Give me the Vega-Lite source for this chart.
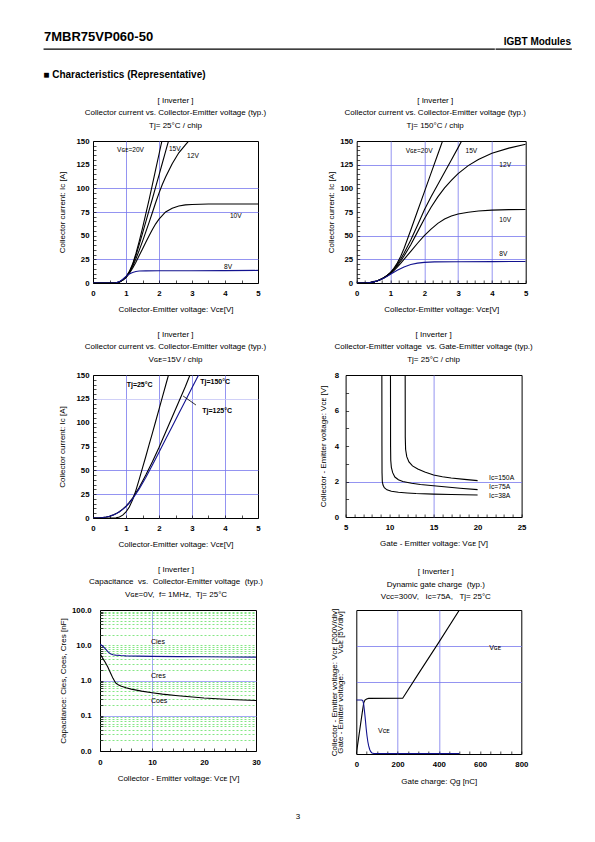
{
"$schema": "https://vega.github.io/schema/vega-lite/v6.json",
"padding": {"left": 43, "top": 30, "right": 5, "bottom": 5},
"spacing": 15,
"config": {
 "font": "Liberation Sans",
 "view": {"stroke": "#000", "strokeWidth": 1},
 "axis": {"domain": false, "tickColor": "#000", "tickSize": -3, "tickWidth": 0.7, "tickCount": 100, "labelFontSize": 7.8, "labelFontWeight": "bold", "labelColor": "#000", "labelFlush": false, "labelOverlap": false, "titleFontSize": 8, "titleFontWeight": "normal", "titleColor": "#000", "gridColor": "#7878ee", "gridWidth": 0.8},
 "title": {"fontSize": 8, "fontWeight": "normal", "color": "#000", "lineHeight": 12.7, "offset": 7, "frame": "group", "anchor": "middle"},
 "text": {"color": "#000"},
 "line": {"strokeWidth": 1.1}
},
"datasets": {
 "p1": [
  {"s":"20V","v":0,"i":0},{"s":"20V","v":0.6,"i":0},{"s":"20V","v":0.7,"i":0.2},{"s":"20V","v":0.8,"i":1},{"s":"20V","v":0.9,"i":3},{"s":"20V","v":1.0,"i":6.5},{"s":"20V","v":1.1,"i":12},{"s":"20V","v":1.2,"i":20},{"s":"20V","v":1.3,"i":31},{"s":"20V","v":1.4,"i":44},{"s":"20V","v":1.5,"i":58},{"s":"20V","v":1.6,"i":73},{"s":"20V","v":1.7,"i":88},{"s":"20V","v":1.8,"i":104},{"s":"20V","v":1.9,"i":120},{"s":"20V","v":2.0,"i":136},{"s":"20V","v":2.1,"i":152},
  {"s":"15V","v":0,"i":0},{"s":"15V","v":0.6,"i":0},{"s":"15V","v":0.7,"i":0.2},{"s":"15V","v":0.8,"i":1},{"s":"15V","v":0.9,"i":3},{"s":"15V","v":1.0,"i":6.3},{"s":"15V","v":1.1,"i":11.5},{"s":"15V","v":1.2,"i":19},{"s":"15V","v":1.3,"i":29},{"s":"15V","v":1.4,"i":40.5},{"s":"15V","v":1.5,"i":52.5},{"s":"15V","v":1.6,"i":64.5},{"s":"15V","v":1.7,"i":77},{"s":"15V","v":1.8,"i":89},{"s":"15V","v":1.9,"i":101.5},{"s":"15V","v":2.0,"i":114},{"s":"15V","v":2.1,"i":126.5},{"s":"15V","v":2.2,"i":139},{"s":"15V","v":2.3,"i":151.5},
  {"s":"12V","v":0,"i":0},{"s":"12V","v":0.6,"i":0},{"s":"12V","v":0.7,"i":0.2},{"s":"12V","v":0.8,"i":1},{"s":"12V","v":0.9,"i":3},{"s":"12V","v":1.0,"i":6},{"s":"12V","v":1.1,"i":11},{"s":"12V","v":1.2,"i":17.5},{"s":"12V","v":1.3,"i":25.5},{"s":"12V","v":1.4,"i":34.5},{"s":"12V","v":1.5,"i":44},{"s":"12V","v":1.6,"i":54},{"s":"12V","v":1.7,"i":64},{"s":"12V","v":1.8,"i":74.5},{"s":"12V","v":1.9,"i":85},{"s":"12V","v":2.0,"i":95},{"s":"12V","v":2.1,"i":104},{"s":"12V","v":2.2,"i":112},{"s":"12V","v":2.4,"i":126},{"s":"12V","v":2.6,"i":137.5},{"s":"12V","v":2.8,"i":146},{"s":"12V","v":2.95,"i":152},
  {"s":"10V","v":0,"i":0},{"s":"10V","v":0.6,"i":0},{"s":"10V","v":0.7,"i":0.2},{"s":"10V","v":0.8,"i":1},{"s":"10V","v":0.9,"i":3},{"s":"10V","v":1.0,"i":5.8},{"s":"10V","v":1.1,"i":10},{"s":"10V","v":1.2,"i":15.5},{"s":"10V","v":1.3,"i":22},{"s":"10V","v":1.4,"i":29},{"s":"10V","v":1.5,"i":36},{"s":"10V","v":1.6,"i":43},{"s":"10V","v":1.7,"i":50},{"s":"10V","v":1.8,"i":56.5},{"s":"10V","v":1.9,"i":62.5},{"s":"10V","v":2.0,"i":67.5},{"s":"10V","v":2.2,"i":75},{"s":"10V","v":2.4,"i":79},{"s":"10V","v":2.6,"i":81.3},{"s":"10V","v":2.8,"i":82.5},{"s":"10V","v":3.0,"i":83},{"s":"10V","v":3.5,"i":83.5},{"s":"10V","v":5.0,"i":83.5},
  {"s":"8V","v":0,"i":0},{"s":"8V","v":0.6,"i":0},{"s":"8V","v":0.7,"i":0.3},{"s":"8V","v":0.8,"i":1.5},{"s":"8V","v":0.9,"i":4},{"s":"8V","v":1.0,"i":7},{"s":"8V","v":1.1,"i":9.5},{"s":"8V","v":1.2,"i":11.2},{"s":"8V","v":1.3,"i":12.2},{"s":"8V","v":1.4,"i":12.6},{"s":"8V","v":1.6,"i":12.8},{"s":"8V","v":2,"i":12.9},{"s":"8V","v":3,"i":13},{"s":"8V","v":4,"i":13.1},{"s":"8V","v":5,"i":13.3}
 ],
 "p1l": [
  {"t":"Vɢᴇ=20V","v":0.73,"i":140.7},{"t":"15V","v":2.3,"i":142},{"t":"12V","v":2.85,"i":134},{"t":"10V","v":4.15,"i":71},{"t":"8V","v":3.97,"i":17.3}
 ],
 "p2": [
  {"s":"20V","v":0,"i":0},{"s":"20V","v":0.3,"i":0.2},{"s":"20V","v":0.4,"i":0.5},{"s":"20V","v":0.5,"i":1.2},{"s":"20V","v":0.6,"i":2.2},{"s":"20V","v":0.7,"i":3.6},{"s":"20V","v":0.8,"i":5.5},{"s":"20V","v":0.9,"i":8},{"s":"20V","v":1.0,"i":11.2},{"s":"20V","v":1.1,"i":15.5},{"s":"20V","v":1.2,"i":21},{"s":"20V","v":1.3,"i":28},{"s":"20V","v":1.4,"i":36.5},{"s":"20V","v":1.6,"i":56},{"s":"20V","v":1.8,"i":76},{"s":"20V","v":2.0,"i":96},{"s":"20V","v":2.2,"i":116},{"s":"20V","v":2.4,"i":136},{"s":"20V","v":2.55,"i":151},
  {"s":"15V","v":0,"i":0},{"s":"15V","v":0.3,"i":0.2},{"s":"15V","v":0.4,"i":0.5},{"s":"15V","v":0.5,"i":1.2},{"s":"15V","v":0.6,"i":2.2},{"s":"15V","v":0.7,"i":3.6},{"s":"15V","v":0.8,"i":5.5},{"s":"15V","v":0.9,"i":7.9},{"s":"15V","v":1.0,"i":10.8},{"s":"15V","v":1.1,"i":14.8},{"s":"15V","v":1.2,"i":19.5},{"s":"15V","v":1.3,"i":25},{"s":"15V","v":1.4,"i":31.5},{"s":"15V","v":1.6,"i":45.5},{"s":"15V","v":1.8,"i":61},{"s":"15V","v":2.0,"i":77},{"s":"15V","v":2.2,"i":91},{"s":"15V","v":2.4,"i":104},{"s":"15V","v":2.6,"i":117},{"s":"15V","v":2.8,"i":130},{"s":"15V","v":3.0,"i":143},{"s":"15V","v":3.12,"i":151},
  {"s":"12V","v":0,"i":0},{"s":"12V","v":0.3,"i":0.2},{"s":"12V","v":0.4,"i":0.5},{"s":"12V","v":0.5,"i":1.2},{"s":"12V","v":0.6,"i":2.2},{"s":"12V","v":0.7,"i":3.6},{"s":"12V","v":0.8,"i":5.4},{"s":"12V","v":0.9,"i":7.7},{"s":"12V","v":1.0,"i":10.3},{"s":"12V","v":1.1,"i":14},{"s":"12V","v":1.2,"i":18.3},{"s":"12V","v":1.3,"i":23},{"s":"12V","v":1.4,"i":28.5},{"s":"12V","v":1.6,"i":40.5},{"s":"12V","v":1.8,"i":54},{"s":"12V","v":2.0,"i":67.5},{"s":"12V","v":2.2,"i":80},{"s":"12V","v":2.4,"i":91},{"s":"12V","v":2.6,"i":100.5},{"s":"12V","v":2.8,"i":108.5},{"s":"12V","v":3.0,"i":115.5},{"s":"12V","v":3.3,"i":124},{"s":"12V","v":3.6,"i":130.5},{"s":"12V","v":4.0,"i":137},{"s":"12V","v":4.5,"i":142.5},{"s":"12V","v":5.0,"i":146.5},
  {"s":"10V","v":0,"i":0},{"s":"10V","v":0.3,"i":0.2},{"s":"10V","v":0.4,"i":0.5},{"s":"10V","v":0.5,"i":1.2},{"s":"10V","v":0.6,"i":2.2},{"s":"10V","v":0.7,"i":3.5},{"s":"10V","v":0.8,"i":5.3},{"s":"10V","v":0.9,"i":7.4},{"s":"10V","v":1.0,"i":9.8},{"s":"10V","v":1.1,"i":13},{"s":"10V","v":1.2,"i":16.8},{"s":"10V","v":1.3,"i":20.8},{"s":"10V","v":1.4,"i":25},{"s":"10V","v":1.6,"i":33.5},{"s":"10V","v":1.8,"i":42},{"s":"10V","v":2.0,"i":50},{"s":"10V","v":2.2,"i":57},{"s":"10V","v":2.4,"i":63},{"s":"10V","v":2.6,"i":67.5},{"s":"10V","v":2.8,"i":70.7},{"s":"10V","v":3.0,"i":72.8},{"s":"10V","v":3.3,"i":74.8},{"s":"10V","v":3.6,"i":76},{"s":"10V","v":4.0,"i":77},{"s":"10V","v":4.5,"i":77.5},{"s":"10V","v":5.0,"i":77.6},
  {"s":"8V","v":0,"i":0},{"s":"8V","v":0.3,"i":0.2},{"s":"8V","v":0.4,"i":0.5},{"s":"8V","v":0.5,"i":1.2},{"s":"8V","v":0.6,"i":2.1},{"s":"8V","v":0.7,"i":3.4},{"s":"8V","v":0.8,"i":5},{"s":"8V","v":0.9,"i":7},{"s":"8V","v":1.0,"i":9.2},{"s":"8V","v":1.2,"i":13.5},{"s":"8V","v":1.4,"i":17},{"s":"8V","v":1.6,"i":19.5},{"s":"8V","v":1.8,"i":21},{"s":"8V","v":2.0,"i":21.8},{"s":"8V","v":2.3,"i":22.3},{"s":"8V","v":3,"i":22.5},{"s":"8V","v":4,"i":22.6},{"s":"8V","v":5,"i":22.7}
 ],
 "p2l": [
  {"t":"Vɢᴇ=20V","v":1.45,"i":139.4},{"t":"15V","v":3.22,"i":139.4},{"t":"12V","v":4.22,"i":124.6},{"t":"10V","v":4.22,"i":66.5},{"t":"8V","v":4.22,"i":30.6}
 ],
 "p3": [
  {"s":"25","v":0,"i":0},{"s":"25","v":0.6,"i":0},{"s":"25","v":0.7,"i":0.2},{"s":"25","v":0.8,"i":1},{"s":"25","v":0.9,"i":3},{"s":"25","v":1.0,"i":6.3},{"s":"25","v":1.1,"i":11.5},{"s":"25","v":1.2,"i":19},{"s":"25","v":1.3,"i":29},{"s":"25","v":1.4,"i":40.5},{"s":"25","v":1.5,"i":52.5},{"s":"25","v":1.6,"i":64.5},{"s":"25","v":1.7,"i":77},{"s":"25","v":1.8,"i":89},{"s":"25","v":1.9,"i":101.5},{"s":"25","v":2.0,"i":114},{"s":"25","v":2.1,"i":126.5},{"s":"25","v":2.2,"i":139},{"s":"25","v":2.3,"i":151.5},
  {"s":"125","v":0,"i":0},{"s":"125","v":0.2,"i":0.2},{"s":"125","v":0.3,"i":0.5},{"s":"125","v":0.4,"i":1},{"s":"125","v":0.5,"i":1.8},{"s":"125","v":0.6,"i":3},{"s":"125","v":0.7,"i":4.6},{"s":"125","v":0.8,"i":6.6},{"s":"125","v":0.9,"i":9.3},{"s":"125","v":1.0,"i":12.5},{"s":"125","v":1.1,"i":16.5},{"s":"125","v":1.2,"i":21},{"s":"125","v":1.4,"i":32},{"s":"125","v":1.6,"i":45},{"s":"125","v":1.8,"i":59},{"s":"125","v":2.0,"i":74},{"s":"125","v":2.2,"i":90},{"s":"125","v":2.4,"i":106},{"s":"125","v":2.6,"i":122},{"s":"125","v":2.8,"i":138},{"s":"125","v":2.95,"i":151},
  {"s":"150","v":0,"i":0},{"s":"150","v":0.2,"i":0.2},{"s":"150","v":0.3,"i":0.5},{"s":"150","v":0.4,"i":1},{"s":"150","v":0.5,"i":1.8},{"s":"150","v":0.6,"i":3},{"s":"150","v":0.7,"i":4.5},{"s":"150","v":0.8,"i":6.5},{"s":"150","v":0.9,"i":9},{"s":"150","v":1.0,"i":12},{"s":"150","v":1.1,"i":15.7},{"s":"150","v":1.2,"i":20},{"s":"150","v":1.4,"i":30.5},{"s":"150","v":1.6,"i":42.5},{"s":"150","v":1.8,"i":55.5},{"s":"150","v":2.0,"i":69},{"s":"150","v":2.2,"i":82.5},{"s":"150","v":2.4,"i":96},{"s":"150","v":2.6,"i":109.5},{"s":"150","v":2.8,"i":123},{"s":"150","v":3.0,"i":136.5},{"s":"150","v":3.2,"i":150}
 ],
 "p3l": [
  {"t":"Tj=25°C","v":1.02,"i":139.5},{"t":"Tj=150°C","v":3.25,"i":142.6},{"t":"Tj=125°C","v":3.31,"i":112.5}
 ],
 "p3r": [{"v":2.73,"i":128,"v2":3.12,"i2":118.5}],
 "p4": [
  {"s":"38A","g":9.12,"c":8.1},{"s":"38A","g":9.13,"c":4},{"s":"38A","g":9.14,"c":2.5},{"s":"38A","g":9.17,"c":2.0},{"s":"38A","g":9.25,"c":1.8},{"s":"38A","g":9.4,"c":1.65},{"s":"38A","g":9.7,"c":1.53},{"s":"38A","g":10.2,"c":1.45},{"s":"38A","g":11,"c":1.39},{"s":"38A","g":12,"c":1.35},{"s":"38A","g":13,"c":1.32},{"s":"38A","g":15,"c":1.29},{"s":"38A","g":17,"c":1.27},{"s":"38A","g":20,"c":1.24},
  {"s":"75A","g":10.1,"c":8.1},{"s":"75A","g":10.11,"c":4},{"s":"75A","g":10.13,"c":3.2},{"s":"75A","g":10.2,"c":2.8},{"s":"75A","g":10.35,"c":2.5},{"s":"75A","g":10.6,"c":2.25},{"s":"75A","g":11,"c":2.1},{"s":"75A","g":11.5,"c":2.0},{"s":"75A","g":12.5,"c":1.9},{"s":"75A","g":13.5,"c":1.83},{"s":"75A","g":15,"c":1.76},{"s":"75A","g":16.5,"c":1.69},{"s":"75A","g":18,"c":1.62},{"s":"75A","g":20,"c":1.54},
  {"s":"150A","g":11.77,"c":8.1},{"s":"150A","g":11.78,"c":4.5},{"s":"150A","g":11.82,"c":3.8},{"s":"150A","g":11.95,"c":3.4},{"s":"150A","g":12.2,"c":3.1},{"s":"150A","g":12.6,"c":2.88},{"s":"150A","g":13.2,"c":2.7},{"s":"150A","g":14,"c":2.53},{"s":"150A","g":15,"c":2.37},{"s":"150A","g":16,"c":2.27},{"s":"150A","g":17,"c":2.2},{"s":"150A","g":18.5,"c":2.12},{"s":"150A","g":20,"c":2.05}
 ],
 "p4l": [
  {"t":"Ic=150A","g":21.3,"c":2.2},{"t":"Ic=75A","g":21.3,"c":1.69},{"t":"Ic=38A","g":21.3,"c":1.18}
 ],
 "p5": [
  {"s":"Cies","v":0,"c":10.8},{"s":"Cies","v":0.5,"c":9.5},{"s":"Cies","v":1,"c":8},{"s":"Cies","v":1.5,"c":6.6},{"s":"Cies","v":2,"c":5.7},{"s":"Cies","v":2.5,"c":5.4},{"s":"Cies","v":3,"c":5.25},{"s":"Cies","v":4,"c":5.1},{"s":"Cies","v":5,"c":5.0},{"s":"Cies","v":10,"c":4.85},{"s":"Cies","v":15,"c":4.75},{"s":"Cies","v":20,"c":4.7},{"s":"Cies","v":25,"c":4.65},{"s":"Cies","v":30,"c":4.6},
  {"s":"Coes","v":0,"c":5.8},{"s":"Coes","v":0.5,"c":4.3},{"s":"Coes","v":1,"c":3.3},{"s":"Coes","v":1.5,"c":2.4},{"s":"Coes","v":2,"c":1.65},{"s":"Coes","v":2.5,"c":1.15},{"s":"Coes","v":3,"c":0.85},{"s":"Coes","v":3.5,"c":0.76},{"s":"Coes","v":4,"c":0.7},{"s":"Coes","v":5,"c":0.62},{"s":"Coes","v":6,"c":0.57},{"s":"Coes","v":8,"c":0.5},{"s":"Coes","v":10,"c":0.45},{"s":"Coes","v":12,"c":0.41},{"s":"Coes","v":15,"c":0.37},{"s":"Coes","v":20,"c":0.32},{"s":"Coes","v":25,"c":0.29},{"s":"Coes","v":30,"c":0.27}
 ],
 "p5l": [
  {"t":"Cies","v":9.8,"c":12.1},{"t":"Cres","v":9.8,"c":1.32},{"t":"Coes","v":9.8,"c":0.257}
 ],
 "p6g": [
  {"q":0,"u":0},{"q":10,"u":2},{"q":20,"u":4},{"q":30,"u":6},{"q":36,"u":7.1},{"q":42,"u":7.5},{"q":50,"u":7.65},{"q":60,"u":7.72},{"q":225,"u":7.75},{"q":300,"u":11.1},{"q":400,"u":15.5},{"q":502,"u":20.1}
 ],
 "p6c": [
  {"q":0,"w":300},{"q":27,"w":300},{"q":32,"w":295},{"q":36,"w":275},{"q":40,"w":235},{"q":44,"w":190},{"q":48,"w":140},{"q":52,"w":100},{"q":56,"w":68},{"q":60,"w":45},{"q":65,"w":25},{"q":70,"w":13},{"q":76,"w":6},{"q":85,"w":3},{"q":100,"w":2},{"q":500,"w":2}
 ],
 "p6gl": [{"t":"Vɢᴇ","q":644,"u":14.7}],
 "p6cl": [{"t":"Vᴄᴇ","q":105,"w":126}]
},
"vconcat": [
 {"spacing": 0,
  "title": {"text": "■ Characteristics (Representative)", "orient": "bottom", "anchor": "start", "frame": "bounds", "fontSize": 10, "fontWeight": "bold", "offset": 20.5},
  "hconcat": [
   {"width": 450, "height": 0.01, "view": {"stroke": "#000", "strokeWidth": 1.3},
    "title": {"text": "7MBR75VP060-50", "anchor": "start", "fontSize": 13, "fontWeight": "bold", "offset": -7.7, "baseline": "bottom"},
    "data": {"values": []}, "mark": "text", "encoding": {}},
   {"width": 75, "height": 0.01, "view": {"stroke": "#000", "strokeWidth": 1.3},
    "title": {"text": "IGBT Modules", "anchor": "end", "fontSize": 10, "fontWeight": "bold", "offset": -7.7, "baseline": "bottom"},
    "data": {"values": []}, "mark": "text", "encoding": {}}
  ]},
 {"spacing": 0,
  "hconcat": [
   {"width": 13, "height": 5, "view": {"stroke": "transparent"}, "data": {"values": []}, "mark": "text", "encoding": {}},
   {"spacing": 59.7,
    "hconcat": [
     {"width": 165, "height": 142,
      "title": {"text": ["[ Inverter ]", "Collector current vs. Collector-Emitter voltage (typ.)", "Tj= 25°C / chip"]},
      "layer": [
       {"data": {"name": "p1"}, "mark": {"type": "line", "clip": true},
        "encoding": {
         "x": {"field": "v", "type": "quantitative", "scale": {"domain": [0, 5], "nice": false},
          "axis": {"title": "Collector-Emitter voltage: Vᴄᴇ[V]", "tickCount": 100, "values": [0,0.5,1,1.5,2,2.5,3,3.5,4,4.5,5], "labelExpr": "datum.value % 1 === 0 ? format(datum.value, 'd') : ''", "grid": true, "gridOpacity": {"condition": {"test": "datum.value === 1 || datum.value === 2", "value": 1}, "value": 0}, "labelPadding": 9.5, "titlePadding": 8.5}},
         "y": {"field": "i", "type": "quantitative", "scale": {"domain": [0, 150], "nice": false},
          "axis": {"title": "Collector current: Iᴄ [A]", "tickCount": 100, "values": [0,5,10,15,20,25,30,35,40,45,50,55,60,65,70,75,80,85,90,95,100,105,110,115,120,125,130,135,140,145,150], "labelExpr": "datum.value % 25 === 0 ? format(datum.value, 'd') : ''", "grid": true, "gridOpacity": {"condition": {"test": "indexof([25,75,100], datum.value) >= 0", "value": 1}, "value": 0}, "labelPadding": 7, "titlePadding": 9}},
         "color": {"field": "s", "type": "nominal", "scale": {"domain": ["20V","15V","12V","10V","8V","25","125","150","Cies","Coes"], "range": ["#000","#000","#000","#000","#12128f","#000","#000","#12128f","#12128f","#000"]}, "legend": null}
        }},
       {"data": {"name": "p1l"}, "mark": {"type": "text", "align": "left", "baseline": "middle", "fontSize": 6.6},
        "encoding": {"x": {"field": "v", "type": "quantitative"}, "y": {"field": "i", "type": "quantitative"}, "text": {"field": "t"}}}
      ]},
     {"width": 169, "height": 142,
      "title": {"text": ["[ Inverter ]", "Collector current vs. Collector-Emitter voltage (typ.)", "Tj= 150°C / chip"], "dx": -6},
      "layer": [
       {"data": {"name": "p2"}, "mark": {"type": "line", "clip": true},
        "encoding": {
         "x": {"field": "v", "type": "quantitative", "scale": {"domain": [0, 5], "nice": false},
          "axis": {"title": "Collector-Emitter voltage: Vᴄᴇ[V]", "tickCount": 100, "values": [0,0.25,0.5,0.75,1,1.25,1.5,1.75,2,2.25,2.5,2.75,3,3.25,3.5,3.75,4,4.25,4.5,4.75,5], "labelExpr": "datum.value % 1 === 0 ? format(datum.value, 'd') : ''", "grid": true, "gridOpacity": {"condition": {"test": "indexof([1,2,3,4], datum.value) >= 0", "value": 1}, "value": 0}, "labelPadding": 9.5, "titlePadding": 8.5}},
         "y": {"field": "i", "type": "quantitative", "scale": {"domain": [0, 150], "nice": false},
          "axis": {"title": "Collector current: Iᴄ [A]", "tickCount": 100, "values": [0,5,10,15,20,25,30,35,40,45,50,55,60,65,70,75,80,85,90,95,100,105,110,115,120,125,130,135,140,145,150], "labelExpr": "datum.value % 25 === 0 ? format(datum.value, 'd') : ''", "grid": true, "gridOpacity": {"condition": {"test": "indexof([25,50,125], datum.value) >= 0", "value": 1}, "value": 0}, "labelPadding": 7, "titlePadding": 4.3}},
         "color": {"field": "s", "type": "nominal", "scale": {"domain": ["20V","15V","12V","10V","8V","25","125","150","Cies","Coes"], "range": ["#000","#000","#000","#000","#12128f","#000","#000","#12128f","#12128f","#000"]}, "legend": null}
        }},
       {"data": {"name": "p2l"}, "mark": {"type": "text", "align": "left", "baseline": "middle", "fontSize": 6.6},
        "encoding": {"x": {"field": "v", "type": "quantitative"}, "y": {"field": "i", "type": "quantitative"}, "text": {"field": "t"}}}
      ]}
    ]}
  ]},
 {"spacing": 0,
  "hconcat": [
   {"width": 13, "height": 5, "view": {"stroke": "transparent"}, "data": {"values": []}, "mark": "text", "encoding": {}},
   {"spacing": 51.6,
    "hconcat": [
     {"width": 165, "height": 143,
      "title": {"text": ["[ Inverter ]", "Collector current vs. Collector-Emitter voltage (typ.)", "Vɢᴇ=15V / chip"]},
      "layer": [
       {"data": {"name": "p3"}, "mark": {"type": "line", "clip": true},
        "encoding": {
         "x": {"field": "v", "type": "quantitative", "scale": {"domain": [0, 5], "nice": false},
          "axis": {"title": "Collector-Emitter voltage: Vᴄᴇ[V]", "tickCount": 100, "values": [0,0.5,1,1.5,2,2.5,3,3.5,4,4.5,5], "labelExpr": "datum.value % 1 === 0 ? format(datum.value, 'd') : ''", "grid": true, "gridOpacity": {"condition": {"test": "indexof([1,2,3,4], datum.value) >= 0", "value": 1}, "value": 0}, "labelPadding": 9.5, "titlePadding": 8.5}},
         "y": {"field": "i", "type": "quantitative", "scale": {"domain": [0, 150], "nice": false},
          "axis": {"title": "Collector current: Iᴄ [A]", "tickCount": 100, "values": [0,5,10,15,20,25,30,35,40,45,50,55,60,65,70,75,80,85,90,95,100,105,110,115,120,125,130,135,140,145,150], "labelExpr": "datum.value % 25 === 0 ? format(datum.value, 'd') : ''", "grid": true, "gridOpacity": {"condition": {"test": "indexof([25,50,125], datum.value) >= 0", "value": 1}, "value": 0}, "gridColor": {"condition": {"test": "datum.value === 125", "value": "#c4c4f6"}, "value": "#7878ee"}, "labelPadding": 7, "titlePadding": 9}},
         "color": {"field": "s", "type": "nominal", "scale": {"domain": ["20V","15V","12V","10V","8V","25","125","150","Cies","Coes"], "range": ["#000","#000","#000","#000","#12128f","#000","#000","#12128f","#12128f","#000"]}, "legend": null}
        }},
       {"data": {"name": "p3r"}, "mark": {"type": "rule", "color": "#000", "strokeWidth": 0.8},
        "encoding": {"x": {"field": "v", "type": "quantitative"}, "y": {"field": "i", "type": "quantitative"}, "x2": {"field": "v2"}, "y2": {"field": "i2"}}},
       {"data": {"name": "p3l"}, "mark": {"type": "text", "align": "left", "baseline": "middle", "fontSize": 7, "fontWeight": "bold"},
        "encoding": {"x": {"field": "v", "type": "quantitative"}, "y": {"field": "i", "type": "quantitative"}, "text": {"field": "t"}}}
      ]},
     {"width": 176, "height": 142,
      "title": {"text": ["[ Inverter ]", "Collector-Emitter voltage \u00a0vs. Gate-Emitter voltage (typ.)", "Tj= 25°C / chip"]},
      "layer": [
       {"data": {"name": "p4"}, "mark": {"type": "line", "clip": true, "color": "#000"},
        "encoding": {
         "x": {"field": "g", "type": "quantitative", "scale": {"domain": [5, 25], "nice": false, "zero": false},
          "axis": {"title": "Gate - Emitter voltage: Vɢᴇ [V]", "tickCount": 100, "values": [5,6,7,8,9,10,11,12,13,14,15,16,17,18,19,20,21,22,23,24,25], "labelExpr": "datum.value % 5 === 0 ? format(datum.value, 'd') : ''", "grid": true, "gridOpacity": {"condition": {"test": "datum.value === 15", "value": 1}, "value": 0}, "labelPadding": 9.5, "titlePadding": 8.5}},
         "y": {"field": "c", "type": "quantitative", "scale": {"domain": [0, 8], "nice": false},
          "axis": {"title": "Collector - Emitter voltage: Vᴄᴇ [V]", "tickCount": 100, "values": [0,1,2,3,4,5,6,7,8], "labelExpr": "datum.value % 2 === 0 ? format(datum.value, 'd') : ''", "grid": true, "gridOpacity": {"condition": {"test": "datum.value === 2", "value": 1}, "value": 0}, "labelPadding": 10, "titlePadding": 6.4}},
         "detail": {"field": "s"}
        }},
       {"data": {"name": "p4l"}, "mark": {"type": "text", "align": "left", "baseline": "middle", "fontSize": 6.8},
        "encoding": {"x": {"field": "g", "type": "quantitative"}, "y": {"field": "c", "type": "quantitative"}, "text": {"field": "t"}}}
      ]}
    ]}
  ]},
 {"spacing": 0,
  "title": {"text": "3", "orient": "bottom", "anchor": "middle", "frame": "bounds", "fontSize": 8, "offset": 27, "dx": 12},
  "hconcat": [
   {"width": 13, "height": 5, "view": {"stroke": "transparent"}, "data": {"values": []}, "mark": "text", "encoding": {}},
   {"spacing": 65.3,
    "hconcat": [
     {"width": 156, "height": 141,
      "title": {"text": ["[ Inverter ]", "Capacitance \u00a0vs. \u00a0Collector-Emitter voltage \u00a0(typ.)", "Vɢᴇ=0V, \u00a0f= 1MHz, \u00a0Tj= 25°C"], "dx": -2},
      "layer": [
       {"data": {"name": "p5"}, "mark": {"type": "line", "clip": true},
        "encoding": {
         "x": {"field": "v", "type": "quantitative", "scale": {"domain": [0, 30], "nice": false},
          "axis": {"title": "Collector - Emitter voltage: Vᴄᴇ [V]", "tickCount": 100, "values": [0,2,4,6,8,10,12,14,16,18,20,22,24,26,28,30], "labelExpr": "datum.value % 10 === 0 ? format(datum.value, 'd') : ''", "grid": true, "gridColor": "#8f8ff5", "gridOpacity": {"condition": {"test": "datum.value === 10", "value": 1}, "value": 0}, "labelPadding": 10, "titlePadding": 9}},
         "y": {"field": "c", "type": "quantitative", "scale": {"type": "log", "domain": [0.01, 100], "nice": false},
          "axis": {"title": "Capacitance: Cies, Coes, Cres [nF]", "tickCount": 100, "values": [0.01,0.02,0.03,0.04,0.05,0.06,0.07,0.08,0.09,0.1,0.2,0.3,0.4,0.5,0.6,0.7,0.8,0.9,1,2,3,4,5,6,7,8,9,10,20,30,40,50,60,70,80,90,100], "labelExpr": "indexof([0.01,0.1,1,10,100], datum.value) >= 0 ? format(datum.value, '.1f') : ''", "grid": true,
           "gridColor": {"condition": {"test": "datum.value === 1 || datum.value === 0.1", "value": "#8f8ff5"}, "value": "#66e066"},
           "gridDash": {"condition": {"test": "datum.value === 1 || datum.value === 0.1", "value": []}, "value": [2, 2]},
           "gridOpacity": {"condition": {"test": "datum.value === 0.01 || datum.value === 100", "value": 0}, "value": 1},
           "labelPadding": 12, "titlePadding": 4}},
         "color": {"field": "s", "type": "nominal", "scale": {"domain": ["20V","15V","12V","10V","8V","25","125","150","Cies","Coes"], "range": ["#000","#000","#000","#000","#12128f","#000","#000","#12128f","#12128f","#000"]}, "legend": null},
         "strokeWidth": {"field": "s", "type": "nominal", "scale": {"domain": ["Cies","Coes"], "range": [1.4, 2.4]}, "legend": null}
        }},
       {"data": {"name": "p5l"}, "mark": {"type": "text", "align": "left", "baseline": "middle", "fontSize": 7},
        "encoding": {"x": {"field": "v", "type": "quantitative"}, "y": {"field": "c", "type": "quantitative"}, "text": {"field": "t"}}}
      ]},
     {"width": 165, "height": 144,
      "title": {"text": ["[ Inverter ]", "Dynamic gate charge \u00a0(typ.)", "Vcc=300V, \u00a0 Ic=75A, \u00a0 Tj= 25°C"], "dx": -3},
      "layer": [
       {"layer": [
         {"data": {"name": "p6g"}, "mark": {"type": "line", "clip": true, "color": "#000"},
          "encoding": {
           "x": {"field": "q", "type": "quantitative", "scale": {"domain": [0, 800], "nice": false},
            "axis": {"title": "Gate charge: Qg [nC]", "tickCount": 100, "values": [0,50,100,150,200,250,300,350,400,450,500,550,600,650,700,750,800], "labelExpr": "datum.value % 200 === 0 ? format(datum.value, 'd') : ''", "grid": true, "gridOpacity": {"condition": {"test": "datum.value === 200 || datum.value === 400", "value": 1}, "value": 0}, "labelPadding": 9.5, "titlePadding": 9}},
           "y": {"field": "u", "type": "quantitative", "scale": {"domain": [0, 20], "nice": false},
            "axis": {"title": ["Collector - Emitter voltage: Vᴄᴇ [200V/div]", "Gate - Emitter voltage:\u00a0\u00a0\u00a0\u00a0\u00a0\u00a0\u00a0\u00a0\u00a0Vɢᴇ [5V/div]"], "titleLineHeight": 6, "tickCount": 100, "values": [10, 15], "labels": false, "ticks": false, "grid": true, "titlePadding": 12}}
          }},
         {"data": {"name": "p6gl"}, "mark": {"type": "text", "align": "left", "baseline": "middle", "fontSize": 7},
          "encoding": {"x": {"field": "q", "type": "quantitative"}, "y": {"field": "u", "type": "quantitative"}, "text": {"field": "t"}}}
       ]},
       {"layer": [
         {"data": {"name": "p6c"}, "mark": {"type": "line", "clip": true, "color": "#12128f"},
          "encoding": {
           "x": {"field": "q", "type": "quantitative"},
           "y": {"field": "w", "type": "quantitative", "scale": {"domain": [0, 800], "nice": false}, "axis": null}
          }},
         {"data": {"name": "p6cl"}, "mark": {"type": "text", "align": "left", "baseline": "middle", "fontSize": 7},
          "encoding": {"x": {"field": "q", "type": "quantitative"}, "y": {"field": "w", "type": "quantitative"}, "text": {"field": "t"}}}
       ]}
      ],
      "resolve": {"scale": {"y": "independent"}}}
    ]}
  ]}
]
}
